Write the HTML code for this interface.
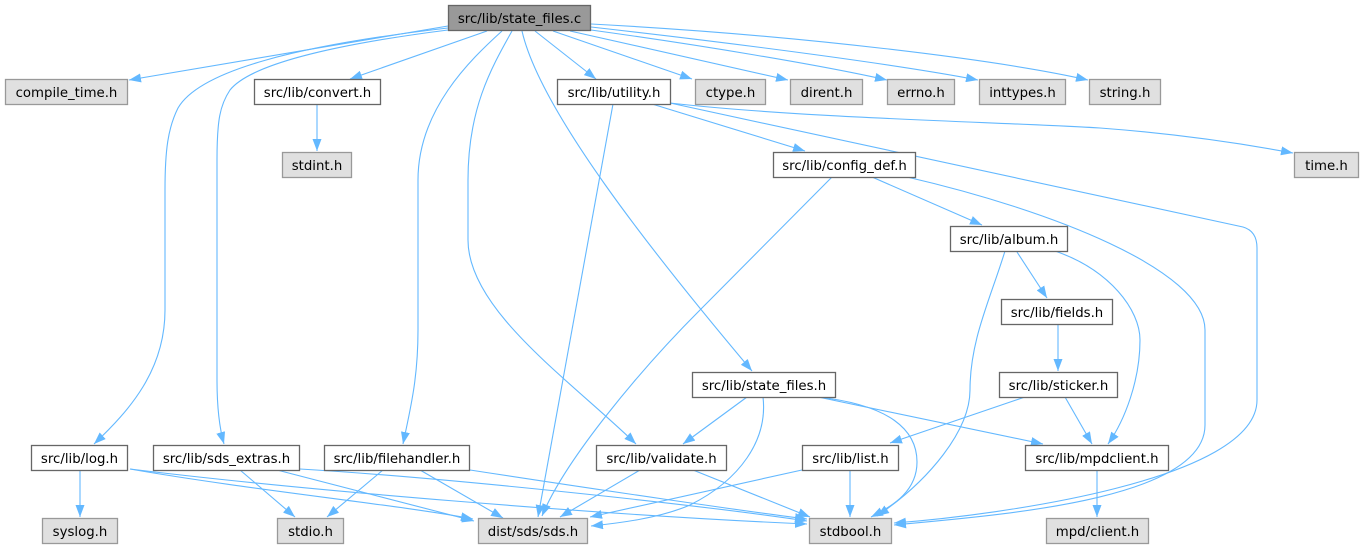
<!DOCTYPE html>
<html><head><meta charset="utf-8"><style>
html,body{margin:0;padding:0;background:#fff;}
svg{display:block;}
text{font-family:"DejaVu Sans","Liberation Sans",sans-serif;font-size:13.3px;fill:#000;text-anchor:middle;}
.e{fill:none;stroke:#63b8ff;stroke-width:1.1;marker-end:url(#ah);}
.w{fill:#fff;stroke:#666;stroke-width:1.3;}
.g{fill:#e0e0e0;stroke:#999;stroke-width:1.3;}
.m{fill:#999;stroke:#666;stroke-width:1.3;}
</style></head><body>
<svg width="1364" height="549" viewBox="0 0 1364 549" xmlns="http://www.w3.org/2000/svg">
<defs>
<marker id="ah" markerUnits="userSpaceOnUse" viewBox="0 0 12 9" markerWidth="12" markerHeight="9" refX="12" refY="4.5" orient="auto">
<path d="M0,0 L12,4.5 L0,9 z" fill="#63b8ff"/>
</marker>
</defs>
<!-- edges -->
<path class="e" d="M448,26 L129,80"/>
<path class="e" d="M448,28 C300,45 200,70 178,108 C168,128 165,150 165,190 L165,310 C165,370 130,410 94,444"/>
<path class="e" d="M448,30 C330,45 250,65 230,90 C220,105 217,120 217,160 L217,380 C217,410 220,430 224,444"/>
<path class="e" d="M487,31 L350,79"/>
<path class="e" d="M317,104 L317,151"/>
<path class="e" d="M502,31 C470,60 418,110 418,180 L418,330 C418,380 410,410 403,444"/>
<path class="e" d="M512,31 C490,70 468,110 468,180 L468,240 C468,310 570,380 636,444"/>
<path class="e" d="M522,31 C540,110 650,250 752,371"/>
<path class="e" d="M535,31 L596,79"/>
<path class="e" d="M553,31 L692,79"/>
<path class="e" d="M570,31 L788,80"/>
<path class="e" d="M591,30 C700,45 820,65 887,80"/>
<path class="e" d="M591,27 C750,45 900,65 978,80"/>
<path class="e" d="M591,24 C800,35 1000,60 1088,80"/>
<path class="e" d="M670,103 C800,118 1000,122 1100,128 C1180,134 1250,145 1293,153"/>
<path class="e" d="M670,103 L1243,227 Q1257,231 1257,248 L1257,400 C1257,480 1000,515 894,523"/>
<path class="e" d="M907,177 C1050,210 1205,270 1205,330 L1205,425 C1205,500 1000,515 894,525"/>
<path class="e" d="M652,104 L805,151"/>
<path class="e" d="M613,104 L538,517"/>
<path class="e" d="M832,177 L700,310 C640,370 565,460 542,516"/>
<path class="e" d="M872,177 L982,225"/>
<path class="e" d="M1005,251 C990,300 970,340 970,390 C970,430 930,480 877,516"/>
<path class="e" d="M1017,252 L1047,298"/>
<path class="e" d="M1055,251 C1110,270 1140,310 1140,340 C1140,380 1125,420 1108,444"/>
<path class="e" d="M1058,324 L1058,371"/>
<path class="e" d="M1065,397 L1092,444"/>
<path class="e" d="M1025,397 L890,443"/>
<path class="e" d="M747,397 L683,444"/>
<path class="e" d="M763,397 C768,440 740,480 690,505 C660,518 620,523 591,526"/>
<path class="e" d="M818,397 L1043,444"/>
<path class="e" d="M818,397 C890,405 917,430 917,462 C917,490 895,505 871,517"/>
<path class="e" d="M640,470 L560,517"/>
<path class="e" d="M693,470 L810,517"/>
<path class="e" d="M802,470 L590,517"/>
<path class="e" d="M850,470 L850,517"/>
<path class="e" d="M1097,470 L1097,517"/>
<path class="e" d="M80,470 L80,517"/>
<path class="e" d="M130,469 C250,490 400,505 473,519"/>
<path class="e" d="M130,469 C300,490 600,515 807,524"/>
<path class="e" d="M240,470 L295,517"/>
<path class="e" d="M277,470 L474,521"/>
<path class="e" d="M300,469 C450,478 700,505 807,521"/>
<path class="e" d="M383,470 L327,517"/>
<path class="e" d="M420,470 L503,518"/>
<path class="e" d="M470,470 C600,490 750,512 807,519"/>
<!-- nodes -->
<rect class="m" x="448.5" y="5.5" width="142" height="25"/><text x="519.5" y="23">src/lib/state_files.c</text>
<rect class="g" x="5.5" y="79.5" width="122" height="25"/><text x="66.5" y="97">compile_time.h</text>
<rect class="w" x="254.5" y="79.5" width="126" height="25"/><text x="317.5" y="97">src/lib/convert.h</text>
<rect class="w" x="557.5" y="79.5" width="113" height="25"/><text x="614" y="97">src/lib/utility.h</text>
<rect class="g" x="695.5" y="79.5" width="70" height="25"/><text x="730.5" y="97">ctype.h</text>
<rect class="g" x="790.5" y="79.5" width="72" height="25"/><text x="826.5" y="97">dirent.h</text>
<rect class="g" x="887.5" y="79.5" width="67" height="25"/><text x="921" y="97">errno.h</text>
<rect class="g" x="979.5" y="79.5" width="86" height="25"/><text x="1022.5" y="97">inttypes.h</text>
<rect class="g" x="1089.5" y="79.5" width="71" height="25"/><text x="1125" y="97">string.h</text>
<rect class="g" x="282.5" y="152.5" width="69" height="25"/><text x="317" y="170">stdint.h</text>
<rect class="w" x="773.5" y="152.5" width="142" height="25"/><text x="844.5" y="170">src/lib/config_def.h</text>
<rect class="g" x="1294.5" y="152.5" width="64" height="25"/><text x="1326.5" y="170">time.h</text>
<rect class="w" x="950.5" y="226.5" width="117" height="25"/><text x="1009" y="244">src/lib/album.h</text>
<rect class="w" x="1001.5" y="299.5" width="111" height="25"/><text x="1057" y="317">src/lib/fields.h</text>
<rect class="w" x="692.5" y="372.5" width="143" height="25"/><text x="764" y="390">src/lib/state_files.h</text>
<rect class="w" x="999.5" y="372.5" width="118" height="25"/><text x="1058.5" y="390">src/lib/sticker.h</text>
<rect class="w" x="31.5" y="445.5" width="96" height="25"/><text x="79.5" y="463">src/lib/log.h</text>
<rect class="w" x="153.5" y="445.5" width="146" height="25"/><text x="226.5" y="463">src/lib/sds_extras.h</text>
<rect class="w" x="324.5" y="445.5" width="145" height="25"/><text x="397" y="463">src/lib/filehandler.h</text>
<rect class="w" x="596.5" y="445.5" width="130" height="25"/><text x="661.5" y="463">src/lib/validate.h</text>
<rect class="w" x="802.5" y="445.5" width="96" height="25"/><text x="850.5" y="463">src/lib/list.h</text>
<rect class="w" x="1025.5" y="445.5" width="143" height="25"/><text x="1097" y="463">src/lib/mpdclient.h</text>
<rect class="g" x="42.5" y="518.5" width="75" height="25"/><text x="80" y="536">syslog.h</text>
<rect class="g" x="277.5" y="518.5" width="66" height="25"/><text x="310.5" y="536">stdio.h</text>
<rect class="g" x="478.5" y="518.5" width="109" height="25"/><text x="533" y="536">dist/sds/sds.h</text>
<rect class="g" x="809.5" y="518.5" width="82" height="25"/><text x="850.5" y="536">stdbool.h</text>
<rect class="g" x="1046.5" y="518.5" width="102" height="25"/><text x="1097.5" y="536">mpd/client.h</text>
</svg>
</body></html>
